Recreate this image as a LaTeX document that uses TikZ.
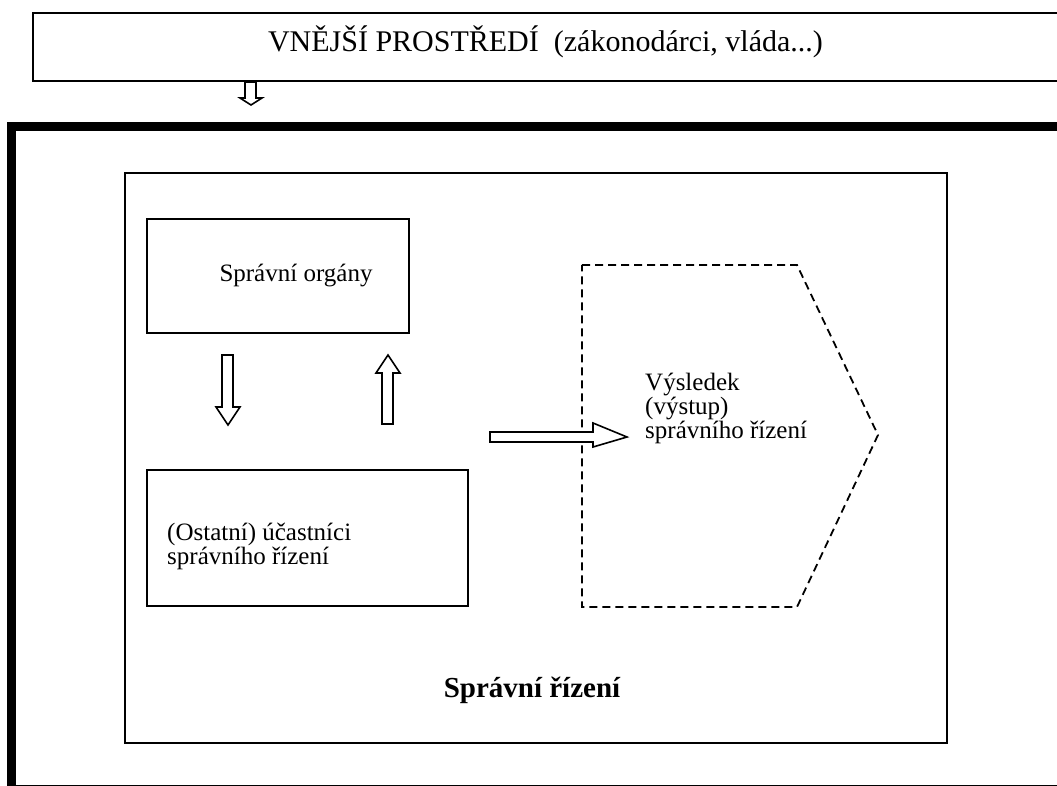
\documentclass[tikz,border=0pt]{standalone}
\usepackage{fontspec}
\setmainfont{Liberation Serif}
\begin{document}
\begin{tikzpicture}[x=1pt,y=-1pt,
  box/.style={draw=black,line width=1.8pt,rectangle,inner sep=0pt},
  frame/.style={draw=black,line width=9pt},
  hollow/.style={draw=black,line width=1.6pt,fill=white,line join=miter},
  outcome/.style={draw=black,line width=1.8pt,dash pattern=on 8pt off 5pt},
  txt/.style={font=\fontsize{25}{25}\selectfont,inner sep=0pt},
  big/.style={font=\fontsize{30}{30}\selectfont,inner sep=0pt},
  heading/.style={font=\fontsize{29}{29}\selectfont\bfseries,inner sep=0pt}]
\useasboundingbox (0,0) rectangle (1057,786);

% outer environment band (runs off the right edge)
\draw[box] (33,13) rectangle (1070,81);
\node[big,anchor=base] (env) at (545.5,52) {VNĚJŠÍ PROSTŘEDÍ\ \ (zákonodárci, vláda...)};

% thick frame of the administrative system
\draw[frame] (11,127) rectangle (1075,789);

% procedure box
\node[box,minimum width=822pt,minimum height=570pt] (proc) at (536,458) {};
\node[heading,anchor=base] (procT) at (532,697) {Správní řízení};

% administrative bodies
\node[box,minimum width=262pt,minimum height=114pt] (organy) at (278,276) {};
\node[txt,anchor=base] (organyT) at (296,282) {Správní orgány};

% other participants
\node[box,minimum width=321pt,minimum height=136pt] (ucastnici) at (307.5,538) {};
\node[txt,anchor=base west] (ucT1) at (167,540) {(Ostatní) účastníci};
\node[txt,anchor=base west] (ucT2) at (167,564) {správního řízení};

% outcome pentagon
\coordinate (v1) at (582,265);
\coordinate (v2) at (797,265);
\coordinate (v3) at (878,435);
\coordinate (v4) at (797,607);
\coordinate (v5) at (582,607);
\draw[outcome] (v1) -- (v2) -- (v3) -- (v4) -- (v5) -- cycle;
\node[txt,anchor=base west] (vyT1) at (645,390) {Výsledek};
\node[txt,anchor=base west] (vyT2) at (645,414) {(výstup)};
\node[txt,anchor=base west] (vyT3) at (645,438) {správního řízení};

% hollow block arrows
\draw[hollow] (245,82) -- (256,82) -- (256,98) -- (262,98) -- (251,105)
  -- (240,98) -- (245,98) -- cycle;
\draw[hollow] (222,355) -- (233,355) -- (233,407) -- (240,407) -- (228,425)
  -- (216,407) -- (222,407) -- cycle;
\draw[hollow] (382,424) -- (393,424) -- (393,373) -- (400,373) -- (388,355)
  -- (376,373) -- (382,373) -- cycle;
\draw[hollow] (490,432) -- (593,432) -- (593,423) -- (627,437) -- (593,447)
  -- (593,442) -- (490,442) -- cycle;
\end{tikzpicture}
\end{document}
